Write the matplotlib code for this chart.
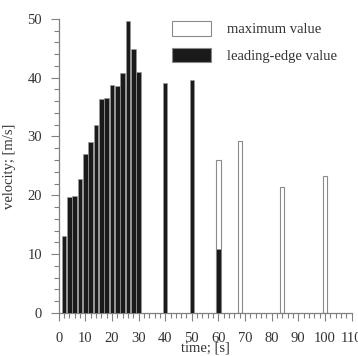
import matplotlib
matplotlib.use("Agg")
import matplotlib.pyplot as plt
from matplotlib.patches import Patch
from matplotlib.ticker import MultipleLocator

# leading-edge velocity (black bars)
t_lead = [2, 4, 6, 8, 10, 12, 14, 16, 18, 20, 22, 24, 26, 28, 30, 40, 50, 60]
v_lead = [13.0, 19.7, 19.9, 22.8, 27.0, 29.0, 31.9, 36.4, 36.6, 38.7, 38.6,
          40.8, 49.6, 44.9, 41.0, 39.1, 39.6, 10.8]

# maximum velocity (white bars)
t_max = [60, 68, 84, 100]
v_max = [26.0, 29.3, 21.4, 23.2]

labels = ["maximum value", "leading-edge value"]

plt.rcParams["font.family"] = ["Liberation Serif", "DejaVu Serif"]
plt.rcParams["font.size"] = 10.5

TEXT = "#333333"
AXC = "#808080"
DARK = "#1a1a1a"

fig = plt.figure(figsize=(3.58, 3.56), dpi=100)
ax = fig.add_axes([0.164, 0.121, 0.818, 0.826])

ax.bar(t_max, v_max, width=1.6, color="white", edgecolor="#8a8a8a", linewidth=0.8, zorder=2)
ax.bar(t_lead, v_lead, width=1.7, color=DARK, edgecolor="#9a9a9a", linewidth=0.5, zorder=3)

ax.set_xlim(0, 110)
ax.set_ylim(0, 50)
ax.xaxis.set_major_locator(MultipleLocator(10))
ax.xaxis.set_minor_locator(MultipleLocator(2))
ax.yaxis.set_major_locator(MultipleLocator(10))
ax.yaxis.set_minor_locator(MultipleLocator(2))

for s in ["top", "right"]:
    ax.spines[s].set_visible(False)
for s in ["left", "bottom"]:
    ax.spines[s].set_color(AXC)
    ax.spines[s].set_linewidth(0.9)

ax.tick_params(which="major", direction="out", length=6, width=0.8, color=AXC,
               labelcolor=TEXT, pad=6)
ax.tick_params(which="minor", direction="out", length=3.5, width=0.8, color=AXC)
ax.tick_params(axis="x", which="major", pad=8)

ax.set_xlabel("time; [s]", color=TEXT, labelpad=-2.5)
ax.set_ylabel("velocity; [m/s]", color=TEXT, labelpad=8)

handles = [Patch(facecolor="white", edgecolor="#8a8a8a", linewidth=0.8),
           Patch(facecolor=DARK, edgecolor="#8a8a8a", linewidth=0.8)]
leg = fig.legend(handles, labels, loc="upper left",
                 bbox_to_anchor=(172 / 358, 1 - 21 / 356), bbox_transform=fig.transFigure,
                 frameon=False, borderpad=0, borderaxespad=0,
                 handlelength=2.67, handleheight=1.16, handletextpad=1.1,
                 labelspacing=0.78)
for txt in leg.get_texts():
    txt.set_color(TEXT)

fig.savefig("out.png", dpi=100)
